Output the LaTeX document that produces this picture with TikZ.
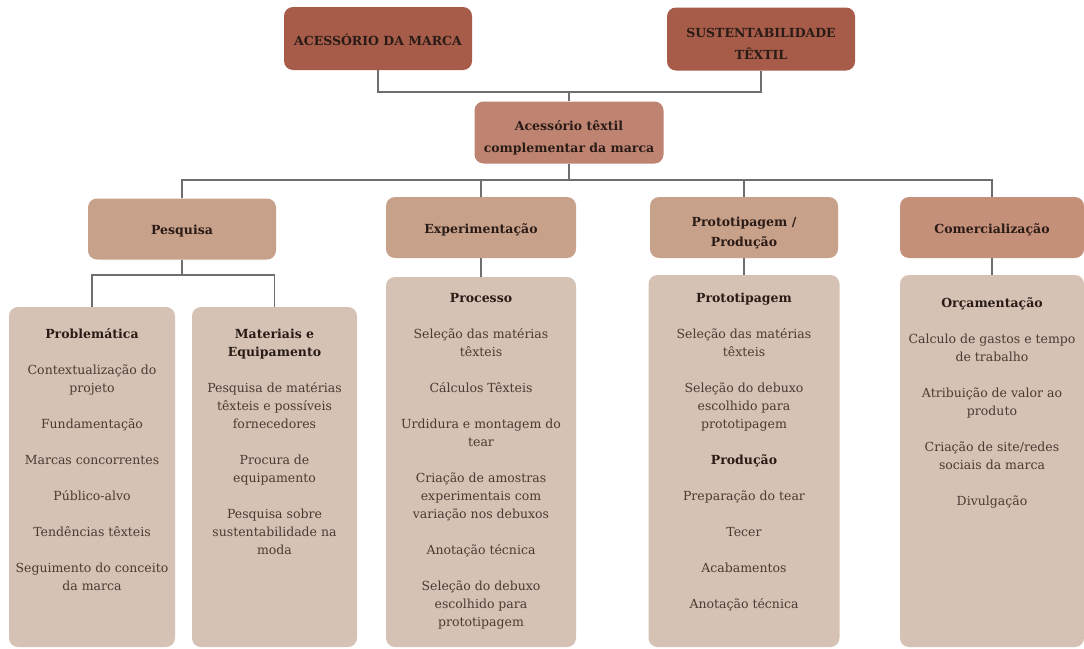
\documentclass[tikz,border=0pt]{standalone}
\usepackage{fontspec}
\setmainfont{DejaVu Serif}
\definecolor{darkbrown}{HTML}{A65C49}
\definecolor{midbrown}{HTML}{BE8471}
\definecolor{catbrown}{HTML}{C8A18A}
\definecolor{combrown}{HTML}{C59079}
\definecolor{subbrown}{HTML}{D5C2B4}
\definecolor{linegray}{HTML}{6E6E6E}
\definecolor{hdtext}{HTML}{2A1B16}
\definecolor{itemtext}{HTML}{4A3A34}
\newcommand{\hd}[1]{{\bfseries\color{hdtext}\strut#1}}
\newcommand{\titlestrut}[1]{\rule{0pt}{#1pt}}
\begin{document}
\begin{tikzpicture}
	[x=1pt,y=-1pt,
	 box/.style={rectangle,rounded corners=9pt,inner sep=0pt,align=center},
	 topbox/.style={box,fill=darkbrown,text=hdtext,minimum width=188pt,minimum height=63pt,font=\bfseries\fontsize{12.5}{22}\selectfont},
	 compbox/.style={box,fill=midbrown,text=hdtext,minimum width=189pt,minimum height=62pt,font=\bfseries\fontsize{12.5}{22}\selectfont},
	 catbox/.style={box,fill=catbrown,text=hdtext,minimum width=188pt,minimum height=61pt,font=\bfseries\fontsize{12.5}{20}\selectfont},
	 subbox/.style={box,fill=subbrown},
	 items/.style={anchor=north,inner sep=0pt,align=center,text=itemtext,font=\fontsize{12.5}{18}\selectfont},
	 link/.style={draw=linegray,line width=1.3pt}]
    \useasboundingbox[fill=white] (0,0) rectangle (1084,648);
    \node[topbox] at (378,38.5) (acc) {\titlestrut{14}ACESSÓRIO DA MARCA};
    \node[topbox] at (761,39) (sust) {\titlestrut{19}SUSTENTABILIDADE\\TÊXTIL};
    \node[compbox] at (569,132.5) (comp) {\titlestrut{20}Acessório têxtil\\complementar da marca};
    \node[catbox] at (182,229) (pesq) {\titlestrut{13}Pesquisa};
    \node[catbox,minimum width=190pt] at (481,227.5) (expe) {\titlestrut{14}Experimentação};
    \node[catbox] at (744,227.5) (prot) {\titlestrut{21}Prototipagem /\\Produção};
    \node[catbox,fill=combrown,minimum width=184pt] at (992,227.5) (come) {\titlestrut{14}Comercialização};
    \node[subbox,minimum width=166pt,minimum height=340pt] at (92,477) (probl) {};
    \node[subbox,minimum width=165pt,minimum height=340pt] at (274.5,477) (mater) {};
    \node[subbox,minimum width=190pt,minimum height=370pt] at (481,462) (proc) {};
    \node[subbox,minimum width=191pt,minimum height=372pt] at (744,461) (protsub) {};
    \node[subbox,minimum width=184pt,minimum height=372pt] at (992,461) (orca) {};
    \node[items] at (92,326) (probltxt) {\hd{Problemática}\\[18pt]
        Contextualização do\\projeto\\[18pt]
        Fundamentação\\[18pt]
        Marcas concorrentes\\[18pt]
        Público-alvo\\[18pt]
        Tendências têxteis\\[18pt]
        Seguimento do conceito\\da marca};
    \node[items] at (274.5,326) (matertxt) {\hd{Materiais e}\\\hd{Equipamento}\\[18pt]
        Pesquisa de matérias\\têxteis e possíveis\\fornecedores\\[18pt]
        Procura de\\equipamento\\[18pt]
        Pesquisa sobre\\sustentabilidade na\\moda};
    \node[items] at (481,290) (proctxt) {\hd{Processo}\\[18pt]
        Seleção das matérias\\têxteis\\[18pt]
        Cálculos Têxteis\\[18pt]
        Urdidura e montagem do\\tear\\[18pt]
        Criação de amostras\\experimentais com\\variação nos debuxos\\[18pt]
        Anotação técnica\\[18pt]
        Seleção do debuxo\\escolhido para\\prototipagem};
    \node[items] at (744,290) (prottxt) {\hd{Prototipagem}\\[18pt]
        Seleção das matérias\\têxteis\\[18pt]
        Seleção do debuxo\\escolhido para\\prototipagem\\[18pt]
        \hd{Produção}\\[18pt]
        Preparação do tear\\[18pt]
        Tecer\\[18pt]
        Acabamentos\\[18pt]
        Anotação técnica};
    \node[items] at (992,295) (orcatxt) {\hd{Orçamentação}\\[18pt]
        Calculo de gastos e tempo\\de trabalho\\[18pt]
        Atribuição de valor ao\\produto\\[18pt]
        Criação de site/redes\\sociais da marca\\[18pt]
        Divulgação};
    \coordinate (j1) at (569,92);
    \coordinate (j2) at (569,180);
    \coordinate (j3) at (182,275);
    \draw[link] (acc.south) |- (j1) -| (sust.south);
    \draw[link] (j1) -- (comp.north);
    \draw[link] (comp.south) -- (j2);
    \draw[link] (pesq.north) |- (j2) -| (come.north);
    \draw[link] (expe.north) -- (expe.north |- j2);
    \draw[link] (prot.north) -- (prot.north |- j2);
    \draw[link] (pesq.south) -- (j3);
    \draw[link] (probl.north) |- (j3) -| (mater.north);
    \draw[link] (expe.south) -- (proc.north);
    \draw[link] (prot.south) -- (protsub.north);
    \draw[link] (come.south) -- (orca.north);
\end{tikzpicture}
\end{document}
